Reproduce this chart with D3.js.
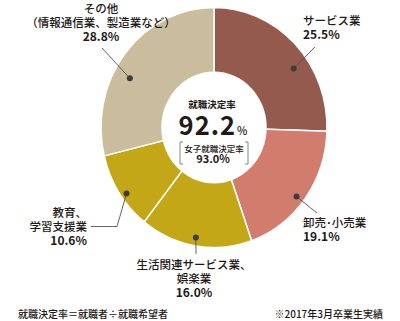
<!DOCTYPE html>
<html><head><meta charset="utf-8">
<script src="https://cdnjs.cloudflare.com/ajax/libs/d3/7.8.5/d3.min.js"></script>
<style>
html,body{margin:0;padding:0;background:#fff;}
svg{display:block;font-family:"Noto Sans CJK JP","Noto Sans",sans-serif;}
</style></head><body>
<script>
// ---- data ----
const categories = ["サービス業", "卸売･小売業", "生活関連サービス業、娯楽業", "教育、学習支援業", "その他（情報通信業、製造業など）"];
const values = [25.5, 19.1, 16.0, 10.6, 28.8];
const colors = ["#955a4e", "#d27c6e", "#c3a716", "#c3a716", "#c9bd9d"];
const totalRate = "92.2";
const femaleRate = "93.0%";

// ---- label layout (text lines, anchor) ----
const labelLines = [
  ["サービス業"],
  ["卸売･小売業"],
  ["生活関連サービス業、", "娯楽業"],
  ["教育、", "学習支援業"],
  ["その他", "（情報通信業、製造業など）"]
];
const labelLayout = [
  {frac:0.6, r:0.86, path:[[315,47]], x:303, y:25, anchor:"start"},
  {frac:0.53, r:0.93, path:[[317,213]], x:303, y:227, anchor:"start"},
  {frac:0.51, r:0.93, path:[[196,254]], x:194, y:269, anchor:"middle"},
  {frac:0.43, r:0.95, path:[[117,226.5],[91,226.5]], x:87, y:217, anchor:"end"},
  {frac:0.41, r:0.85, path:[[102,48]], x:101, y:13, anchor:"middle"}
];

const W = 400, H = 321;
const cx = 214, cy = 127.5, R = 120, sx = 113/120;
const svg = d3.select("body").append("svg").attr("width", W).attr("height", H);

const pie = d3.pie().sort(null).value(d => d)(values);
const arc = d3.arc().innerRadius(0).outerRadius(R);
const g = svg.append("g").attr("transform", `translate(${cx},${cy}) scale(${sx},1)`);
g.selectAll("path").data(pie).join("path")
  .attr("d", arc)
  .attr("fill", (d,i) => colors[i])
  .attr("stroke", "#fff").attr("stroke-width", 1.5)
  .attr("vector-effect", "non-scaling-stroke");
g.append("circle").attr("r", 56).attr("fill", "#fff");

const txt = "#231815";
const LH = 14;
// leaders and labels
pie.forEach((p, i) => {
  const L = labelLayout[i];
  const a = p.startAngle + L.frac * (p.endAngle - p.startAngle);
  const dx = cx + Math.sin(a) * R * L.r * sx;
  const dy = cy - Math.cos(a) * R * L.r;
  const pts = [[dx, dy]].concat(L.path);
  svg.append("path").attr("d", d3.line()(pts))
    .attr("fill", "none").attr("stroke", "#555").attr("stroke-width", 0.9);
  svg.append("circle").attr("cx", dx).attr("cy", dy).attr("r", 3).attr("fill", "#3d3d3d");
  const lines = labelLines[i];
  const t = svg.append("text").attr("text-anchor", L.anchor).attr("fill", txt);
  lines.forEach((ln, k) => {
    t.append("tspan").attr("x", L.x).attr("y", L.y + k * LH)
      .attr("font-size", 11.5).attr("font-weight", 500).text(ln);
  });
  t.append("tspan").attr("x", L.x).attr("y", L.y + lines.length * LH)
    .attr("font-size", 12).attr("font-weight", 700).text(values[i].toFixed(1) + "%");
});

// center text
svg.append("text").attr("x", 212).attr("y", 108).attr("text-anchor", "middle")
  .attr("font-size", 9.5).attr("font-weight", 700).attr("fill", txt).text("就職決定率");
const big = svg.append("text").attr("x", 213).attr("y", 135).attr("text-anchor", "middle").attr("fill", txt);
big.append("tspan").attr("font-size", 25.5).attr("font-weight", 700).attr("letter-spacing", 1).text(totalRate);
big.append("tspan").attr("font-size", 11).attr("font-weight", 500).attr("dx", 1).text("%");
// brackets
const bL = 180, bR = 248, bT = 142, bB = 164;
svg.append("path").attr("d", `M${bL+3},${bT}H${bL}V${bB}H${bL+3}M${bR-3},${bT}H${bR}V${bB}H${bR-3}`)
  .attr("fill", "none").attr("stroke", "#666").attr("stroke-width", 0.8);
svg.append("text").attr("x", 214).attr("y", 151.5).attr("text-anchor", "middle")
  .attr("font-size", 8.5).attr("font-weight", 500).attr("fill", txt).text("女子就職決定率");
svg.append("text").attr("x", 213).attr("y", 163).attr("text-anchor", "middle")
  .attr("font-size", 11).attr("font-weight", 700).attr("fill", txt).text(femaleRate);

// footnotes
svg.append("text").attr("x", 18).attr("y", 318).attr("font-size", 10).attr("font-weight", 500)
  .attr("fill", txt).text("就職決定率＝就職者÷就職希望者");
svg.append("text").attr("x", 383).attr("y", 318).attr("text-anchor", "end").attr("font-size", 10)
  .attr("font-weight", 500).attr("fill", txt).text("※2017年3月卒業生実績");
</script>
</body></html>
